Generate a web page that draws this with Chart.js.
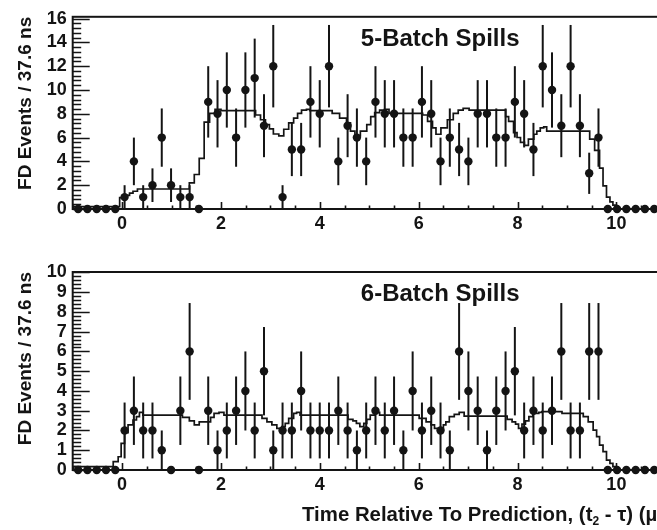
<!DOCTYPE html>
<html>
<head>
<meta charset="utf-8">
<script src="https://cdn.jsdelivr.net/npm/chart.js@4/dist/chart.umd.min.js"></script>
<style>
  html, body { margin:0; padding:0; overflow:hidden; background:#ffffff; width:657px; height:530px; }
  .wrap { position:absolute; left:0; }
  canvas { display:block; }
</style>
</head>
<body>
<div class="wrap" style="top:0px"><canvas id="c5" width="670" height="245"></canvas></div>
<div class="wrap" style="top:245px"><canvas id="c6" width="670" height="285"></canvas></div>
<script>
// ---------------- DATA ----------------
// Bin centres (microseconds), 188 ns bins
const timeBins = [-0.890,-0.702,-0.514,-0.326,-0.138,0.050,0.238,0.426,0.614,0.802,0.990,1.178,1.366,1.554,1.742,1.930,2.118,2.306,2.494,2.682,2.870,3.058,3.246,3.434,3.622,3.810,3.998,4.186,4.374,4.562,4.750,4.938,5.126,5.314,5.502,5.690,5.878,6.066,6.254,6.442,6.630,6.818,7.006,7.194,7.382,7.570,7.758,7.946,8.134,8.322,8.510,8.698,8.886,9.074,9.262,9.450,9.638,9.826,10.014,10.202,10.390,10.578,10.766];

// Observed FD events, 5-batch spills
const counts5 = [0,0,0,0,0, 1,4,1,2,6,2,1,1,0, 9,8,10,6,10,11,7,12,1,5,5,9,8, 12,4,7,6,4,9,8,8,6,6,9,8,4,6,5,4,8,8,6,6,9,8,5,12,10,7,12,7,3,6, 0,0,0,0,0,0];
// Observed FD events, 6-batch spills
const counts6 = [0,0,0,0,0, 2,3,2,2,1,0,3,6,0, 3,1,2,3,4,2,5,1,2,2,4,2,2, 2,3,2,1,2,3,2,3,1,4,2,3,2,1,6,4,3,1,3,4,5,2,3,2,3,6,2,2,6,6, 0,0,0,0,0,0];

// Predicted distribution (step histogram): step start times and levels
const pred5X = [-1.0,-0.05,0.05,0.15,0.22,0.31,1.36,1.46,1.56,1.66,1.77,1.88,2.0,2.70,2.80,2.90,2.98,3.06,3.17,3.27,3.37,3.47,3.55,3.63,3.73,3.80,4.25,4.40,4.54,4.62,4.71,4.82,4.95,5.03,5.11,5.21,5.31,5.40,6.08,6.18,6.28,6.35,6.45,6.58,6.70,6.80,6.90,7.02,7.76,7.82,7.92,7.99,8.06,8.14,8.22,8.33,8.39,8.46,8.53,8.59,9.46,9.56,9.66,9.73,9.80,9.87,9.93,10.0,10.07,11.0];
const pred5Y = [0,0.2,0.95,1.15,1.33,1.49,1.68,2.2,2.9,4.25,7.3,8.04,8.37,8.26,7.9,7.5,7.09,6.74,6.3,6.15,6.7,7.23,7.64,8.04,8.3,8.37,8.26,8.04,7.64,7.23,6.55,6.15,6.55,7.09,7.77,8.1,8.31,8.37,8.04,7.9,7.37,6.82,6.28,6.82,7.5,8.04,8.31,8.45,8.31,7.77,7.37,6.42,6.01,5.6,5.34,5.87,6.28,6.55,6.82,6.9,6.55,5.87,4.93,3.44,1.95,1.0,0.6,0.33,0,0];

const pred6X = [-1.0,-0.18,-0.08,-0.02,0.05,0.12,0.22,0.29,0.35,0.42,1.22,1.36,1.46,1.56,1.79,1.86,1.96,2.06,2.83,2.93,3.03,3.13,3.23,3.30,3.37,3.47,3.53,3.60,4.57,4.67,4.74,4.81,4.89,4.95,5.02,5.11,5.21,6.01,6.15,6.25,6.32,6.42,6.50,6.55,6.62,6.72,6.82,6.92,7.79,7.89,7.96,8.02,8.09,8.16,8.23,8.31,8.43,8.49,8.90,9.33,9.43,9.53,9.60,9.66,9.73,9.80,9.87,9.93,10.0,10.07,11.0];
const pred6Y = [0,0.17,0.42,0.67,1.35,1.89,2.28,2.53,2.7,2.92,2.78,2.66,2.49,2.28,2.44,2.66,2.87,2.92,2.78,2.61,2.44,2.28,2.11,2.2,2.36,2.61,2.87,2.92,2.78,2.56,2.49,2.36,2.2,2.36,2.56,2.78,2.92,2.78,2.61,2.44,2.28,2.11,2.06,2.28,2.44,2.7,2.82,2.92,2.73,2.56,2.44,2.32,2.11,2.32,2.49,2.7,2.87,2.92,2.95,2.87,2.7,2.44,2.02,1.69,1.26,0.93,0.5,0.34,0.17,0,0];

const xTickLabels = [0, 2, 4, 6, 8, 10];
const yTickLabels5 = [0, 2, 4, 6, 8, 10, 12, 14, 16];
const yTickLabels6 = [0, 1, 2, 3, 4, 5, 6, 7, 8, 9, 10];
const panelTitles = ['5-Batch Spills', '6-Batch Spills'];
const yAxisTitle = 'FD Events / 37.6 ns';
const xAxisTitle = ['Time Relative To Prediction, (t', '2', ' - \u03c4) (\u00b5s)'];

// ---------------- STYLE ----------------
const FONT = '"Liberation Sans", Arial, Helvetica, sans-serif';
const INK = '#141414';

function makePanel(cfg) {
  const predPts = cfg.predX.map((x, i) => ({ x: x, y: cfg.predY[i] }));
  const dataPts = timeBins.map((x, i) => ({ x: x, y: cfg.counts[i] }));

  const decor = {
    id: 'decor' + cfg.id,
    afterDatasetsDraw(chart) {
      const { ctx, scales: { x, y } } = chart;
      ctx.save();
      ctx.strokeStyle = INK;
      ctx.lineWidth = 2;
      chart.data.datasets[1].data.forEach(p => {
        if (p.y > 0) {
          const e = Math.sqrt(p.y);
          const px = x.getPixelForValue(p.x);
          ctx.beginPath();
          ctx.moveTo(px, y.getPixelForValue(p.y - e));
          ctx.lineTo(px, y.getPixelForValue(p.y + e));
          ctx.stroke();
        }
      });
      ctx.restore();
    },
    afterDraw(chart) {
      const { ctx, chartArea: a, scales: { x, y } } = chart;
      ctx.save();
      ctx.strokeStyle = INK;
      // frame
      ctx.lineWidth = 2;
      ctx.strokeRect(a.left, a.top, a.right - a.left, a.bottom - a.top);
      // y ticks (inward)
      ctx.lineWidth = 1.6;
      ctx.beginPath();
      for (let v = 0; v <= cfg.yMax + 1e-6; v += cfg.yMinor) {
        const isMajor = Math.abs(v / cfg.yMajor - Math.round(v / cfg.yMajor)) < 1e-6;
        const py = Math.round(y.getPixelForValue(v)) + 0.5;
        if (py < a.top - 0.5) continue;
        ctx.moveTo(a.left, py);
        ctx.lineTo(a.left + (isMajor ? 17 : 8.5), py);
      }
      // x ticks (inward)
      for (let v = -1; v <= 11.0001; v += 0.5) {
        const isMajor = Math.abs(v / 2 - Math.round(v / 2)) < 1e-6;
        const px = Math.round(x.getPixelForValue(v)) + 0.5;
        ctx.moveTo(px, a.bottom);
        ctx.lineTo(px, a.bottom - (isMajor ? 7 : 3.5));
      }
      ctx.stroke();
      // panel title
      ctx.fillStyle = INK;
      ctx.font = 'bold 24px ' + FONT;
      ctx.textBaseline = 'alphabetic';
      ctx.textAlign = 'left';
      ctx.fillText(cfg.title, x.getPixelForValue(4.83), a.top + cfg.titleDy);
      // x axis title
      if (cfg.xTitle) {
        let tx = 302;
        const ty = cfg.xTitleY;
        ctx.font = 'bold 20.4px ' + FONT;
        ctx.fillText(xAxisTitle[0], tx, ty);
        tx += ctx.measureText(xAxisTitle[0]).width;
        ctx.font = 'bold 12px ' + FONT;
        ctx.fillText(xAxisTitle[1], tx, ty + 4);
        tx += ctx.measureText(xAxisTitle[1]).width;
        ctx.font = 'bold 20.4px ' + FONT;
        ctx.fillText(xAxisTitle[2], tx, ty);
      }
      ctx.restore();
    }
  };

  return new Chart(document.getElementById(cfg.id), {
    data: {
      datasets: [
        { type: 'line', data: predPts, stepped: 'after', borderColor: INK, borderWidth: 1.7,
          pointRadius: 0, fill: false, tension: 0 },
        { type: 'scatter', data: dataPts, pointRadius: 4.2, pointHoverRadius: 4.2,
          backgroundColor: INK, borderColor: INK, borderWidth: 0, clip: false }
      ]
    },
    options: {
      responsive: false,
      animation: false,
      events: [],
      layout: { padding: { top: cfg.padTop, left: 0, right: 0, bottom: 0 } },
      plugins: { legend: { display: false }, tooltip: { enabled: false } },
      scales: {
        x: {
          type: 'linear', min: -1, max: 11,
          afterBuildTicks: s => { s.ticks = xTickLabels.map(v => ({ value: v })); },
          afterFit: s => { s.height = cfg.xAxisH; },
          grid: { display: false, drawTicks: false },
          border: { display: false },
          ticks: { font: { family: FONT, size: 18, weight: 'bold' }, color: INK, padding: 4,
                   maxRotation: 0, autoSkip: false }
        },
        y: {
          type: 'linear', min: 0, max: cfg.yMax,
          afterBuildTicks: s => { s.ticks = cfg.yLabels.map(v => ({ value: v })); },
          afterFit: s => { s.width = 72.7; },
          grid: { display: false, drawTicks: false },
          border: { display: false },
          ticks: { font: { family: FONT, size: 18, weight: 'bold' }, color: INK, padding: 6, autoSkip: false },
          title: { display: true, text: yAxisTitle, align: 'end', color: INK,
                   font: { family: FONT, size: 19, weight: 'bold' }, padding: { top: 14, bottom: 0 } }
        }
      }
    },
    plugins: [decor]
  });
}

makePanel({ id: 'c5', counts: counts5, predX: pred5X, predY: pred5Y, yMax: 16.15, yMajor: 2, yMinor: 0.4,
            yLabels: yTickLabels5, title: panelTitles[0], titleDy: 29, padTop: 10, xAxisH: 36, xTitle: false });
makePanel({ id: 'c6', counts: counts6, predX: pred6X, predY: pred6Y, yMax: 10.02, yMajor: 1, yMinor: 0.2,
            yLabels: yTickLabels6, title: panelTitles[1], titleDy: 29, padTop: 27, xAxisH: 60, xTitle: true, xTitleY: 276 });
</script>
</body>
</html>
